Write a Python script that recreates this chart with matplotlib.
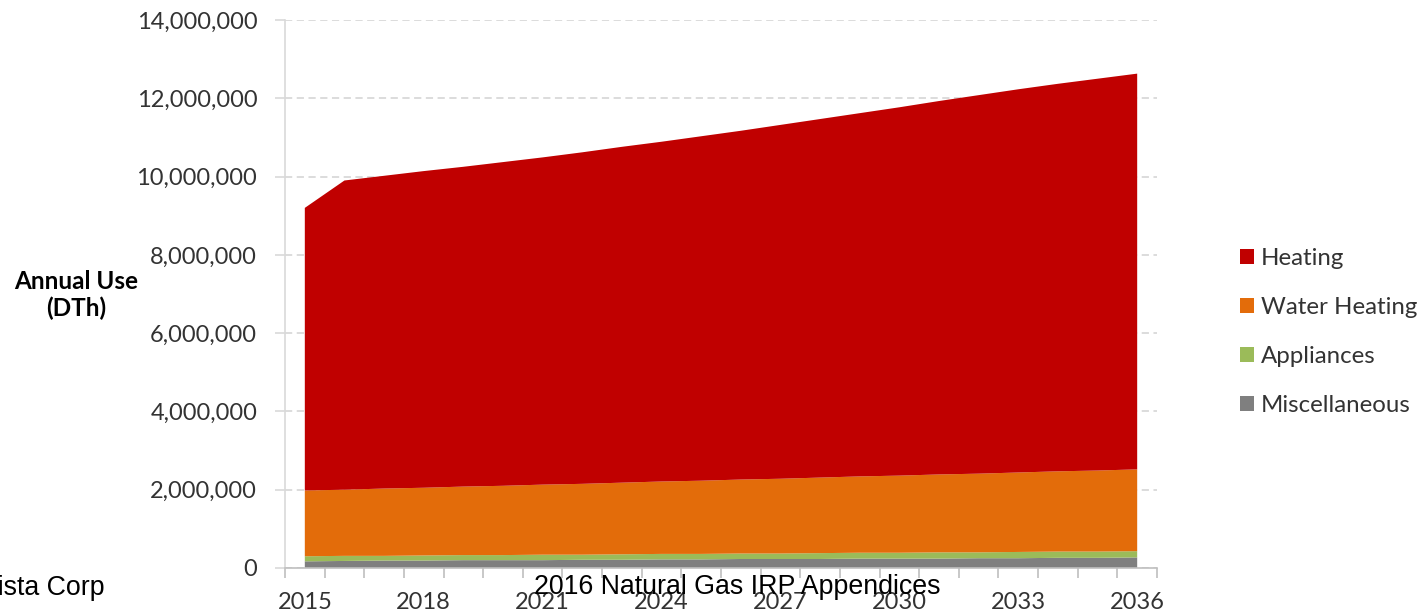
import matplotlib
matplotlib.use("Agg")
import matplotlib.pyplot as plt
from matplotlib.ticker import FuncFormatter, MultipleLocator
from matplotlib.patches import Patch

years = list(range(2015, 2037))

# stacked top of each layer (DTh)
total_top = [9.20e6, 9.90e6, 10.02e6, 10.14e6, 10.25e6, 10.37e6, 10.49e6, 10.62e6,
             10.76e6, 10.89e6, 11.03e6, 11.17e6, 11.32e6, 11.47e6, 11.62e6, 11.77e6,
             11.93e6, 12.08e6, 12.23e6, 12.37e6, 12.50e6, 12.63e6]
water_top = [1.98e6, 2.00e6, 2.03e6, 2.05e6, 2.08e6, 2.10e6, 2.13e6, 2.15e6,
             2.18e6, 2.21e6, 2.23e6, 2.26e6, 2.28e6, 2.31e6, 2.34e6, 2.36e6,
             2.39e6, 2.41e6, 2.44e6, 2.47e6, 2.49e6, 2.52e6]
appliance_top = [0.30e6, 0.31e6, 0.31e6, 0.32e6, 0.33e6, 0.33e6, 0.34e6, 0.34e6,
                 0.35e6, 0.36e6, 0.36e6, 0.37e6, 0.37e6, 0.38e6, 0.39e6, 0.39e6,
                 0.40e6, 0.40e6, 0.41e6, 0.42e6, 0.42e6, 0.43e6]
misc = [0.17e6, 0.18e6, 0.19e6, 0.19e6, 0.20e6, 0.20e6, 0.20e6, 0.21e6,
        0.21e6, 0.22e6, 0.22e6, 0.23e6, 0.23e6, 0.23e6, 0.24e6, 0.24e6,
        0.24e6, 0.25e6, 0.25e6, 0.26e6, 0.26e6, 0.27e6]

appliances = [a - m for a, m in zip(appliance_top, misc)]
water_heating = [w - a for w, a in zip(water_top, appliance_top)]
heating = [t - w for t, w in zip(total_top, water_top)]

labels = ["Heating", "Water Heating", "Appliances", "Miscellaneous"]
colors = ["#C00000", "#E36C0A", "#9BBB59", "#7F7F7F"]

plt.rcParams['font.family'] = ['Lato', 'DejaVu Sans']

fig = plt.figure(figsize=(14.23, 6.14), dpi=100)
ax = fig.add_axes([285 / 1423, 1 - 568 / 614, (1157 - 285) / 1423, (568 - 20) / 614])

ax.stackplot(years, misc, appliances, water_heating, heating,
             colors=colors[::-1], linewidth=0, zorder=2)

ax.set_xlim(2014.5, 2036.5)
ax.set_ylim(0, 14e6)
ax.yaxis.set_major_locator(MultipleLocator(2e6))
ax.yaxis.set_major_formatter(FuncFormatter(lambda v, p: f"{v:,.0f}"))
ax.set_xticks(years[::3])
ax.set_xticks([y - 0.5 for y in years] + [2036.5], minor=True)

ax.grid(axis='y', color='#D9D9D9', linestyle=(0, (4, 2.5)), linewidth=1.3, zorder=0)
for s in ['top', 'right']:
    ax.spines[s].set_visible(False)
ax.spines['left'].set_color('#D9D9D9')
ax.spines['left'].set_linewidth(1.2)
ax.spines['bottom'].set_color('#BFBFBF')
ax.spines['bottom'].set_linewidth(1.2)

ax.tick_params(axis='y', length=7, color='#D9D9D9', width=1.2, pad=13,
               labelsize=17, labelcolor='#333333')
ax.tick_params(axis='x', which='major', length=0, pad=17, labelsize=17, labelcolor='#333333')
ax.tick_params(axis='x', which='minor', length=7, color='#BFBFBF', width=1.2)

fig.text(76 / 1423, 1 - 295 / 614, "Annual Use\n(DTh)", ha='center', va='center',
         fontsize=17.5, fontweight='bold', linespacing=1.15)

handles = [Patch(facecolor=c, edgecolor='none') for c in colors]
fig.legend(handles, labels, loc='center left', bbox_to_anchor=(1218 / 1423, 1 - 332 / 614),
           frameon=False, fontsize=17.3, handlelength=0.58, handleheight=0.58,
           handletextpad=0.3, labelspacing=1.17, labelcolor='#333333')

fig.text(105 / 1423, 1 - 588 / 614, "Avista Corp", ha='right', va='center',
         fontsize=19.3, family='Liberation Sans')
fig.text(737 / 1423, 1 - 587 / 614, "2016 Natural Gas IRP Appendices", ha='center',
         va='center', fontsize=19.3, family='Liberation Sans')

fig.savefig("out.png", dpi=100)
